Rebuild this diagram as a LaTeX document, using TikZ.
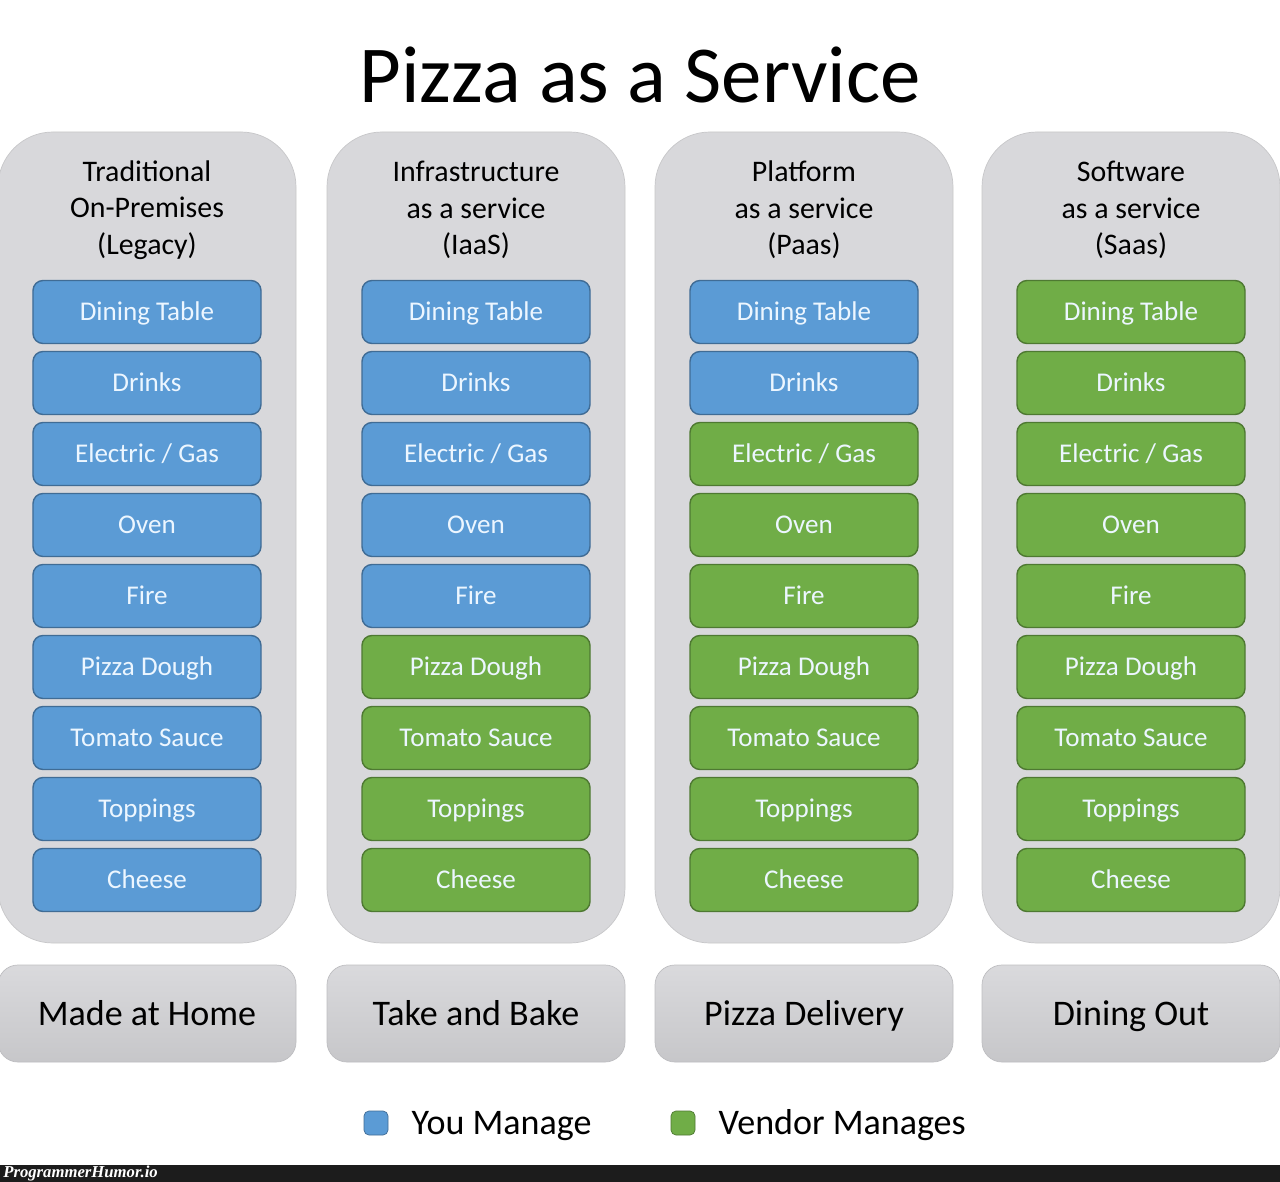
\documentclass[tikz,border=0pt]{standalone}
\usepackage{fontspec}
\setmainfont{Carlito}
\usetikzlibrary{positioning}
\definecolor{youblue}{RGB}{91,155,213}
\definecolor{vendgreen}{RGB}{112,173,71}
\definecolor{panel}{RGB}{216,216,219}
\definecolor{boxtxt}{RGB}{236,246,255}
\definecolor{strip}{RGB}{28,28,28}
\tikzset{
  col/.style={fill=panel,draw=panel!92!black,rounded corners=11mm,
    minimum width=59.6mm,minimum height=162.2mm},
  head/.style={align=center,font=\fontsize{17}{20.8}\selectfont},
  item/.style={fill=#1,draw=#1!70!black,line width=0.8pt,rounded corners=2mm,
    minimum width=45.6mm,minimum height=12.6mm,text=boxtxt,
    text height=12.3pt,text depth=2.4pt,font=\fontsize{15.4}{18}\selectfont},
  item/.default=youblue,
  mode/.style={top color=panel!96!white,bottom color=panel!92!black,
    draw=panel!88!black,rounded corners=4mm,minimum width=59.6mm,
    minimum height=19.4mm,text height=15pt,text depth=1.8pt,
    font=\fontsize{20.5}{24}\selectfont},
  legsq/.style={fill=#1,draw=#1!70!black,rounded corners=1mm,
    minimum size=4.8mm,inner sep=0pt},
  legtxt/.style={inner sep=0pt,text height=15pt,text depth=1.8pt,
    font=\fontsize{20.5}{24}\selectfont},
}

\begin{document}
\begin{tikzpicture}[x=0.2mm,y=-0.2mm]
  \fill[white] (0,0) rectangle (1280,1182);
  \useasboundingbox (0,0) rectangle (1280,1182);

  \node[font=\fontsize{46}{50}\selectfont] (title) at (640,75) {Pizza as a Service};

  % one column per model, \nb = rows that you manage
  \foreach \c/\x/\nb/\hd/\md in {
      1/147/9/{Traditional\\On-Premises\\(Legacy)}/Made at Home,
      2/476/5/{Infrastructure\\as a service\\(IaaS)}/Take and Bake,
      3/804/2/{Platform\\as a service\\(Paas)}/Pizza Delivery,
      4/1131/0/{Software\\as a service\\(Saas)}/Dining Out}{
    \node[col] (col\c) at (\x,537.5) {};
    \node[head] (h\c) at (\x,210) {\hd};
    \foreach \t [count=\r] in {Dining Table,Drinks,Electric / Gas,Oven,Fire,
        Pizza Dough,Tomato Sauce,Toppings,Cheese}{
      \ifnum\r>\nb\def\clr{vendgreen}\else\def\clr{youblue}\fi
      \node[item=\clr] (c\c r\r) at (\x,{312+71*(\r-1)}) {\t};
    }
    \node[mode] (m\c) at (\x,1013.5) {\md};
  }

  % legend
  \node[legsq=youblue] (lyou) at (376,1123) {};
  \node[legtxt,right=4.6mm of lyou] (tyou) {You Manage};
  \node[legsq=vendgreen] (lvend) at (683,1123) {};
  \node[legtxt,right=4.6mm of lvend] (tvend) {Vendor Manages};

  % watermark strip
  \fill[strip] (0,1165) rectangle (1280,1182);
  \node[anchor=west,inner sep=0pt,text=white,
    font=\fontsize{9.5}{10}\fontspec{Liberation Serif}\bfseries\itshape] (wm) at (3,1173.5) {ProgrammerHumor.io};
\end{tikzpicture}
\end{document}
